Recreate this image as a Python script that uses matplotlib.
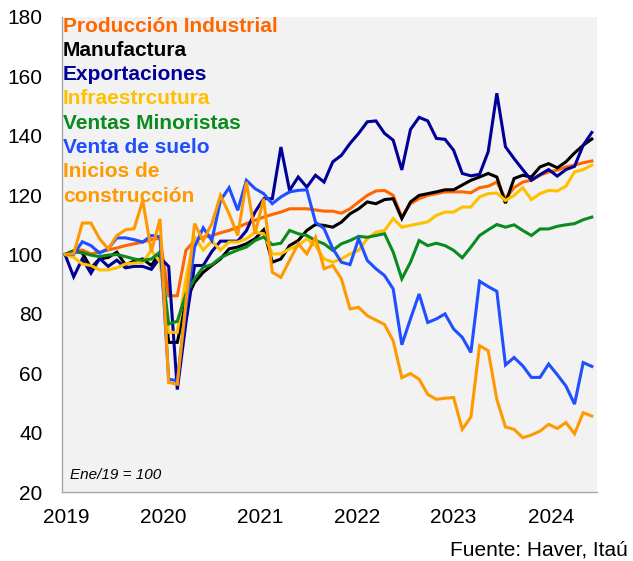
import numpy as np
import matplotlib
matplotlib.use("Agg")
import matplotlib.pyplot as plt

plt.rcParams['font.family'] = ['Liberation Sans', 'DejaVu Sans']

# monthly index, Jan 2019 .. Feb 2024 (Ene/19 = 100)
prod_industrial = [100, 101.2, 101.5, 100.2, 100.8, 101.5, 102.2, 103, 103.6, 104.2, 105, 105.5,
                   86.1, 86.1, 101.4, 104.7, 105.8, 106.4, 107.3, 108.1, 109.2, 110.4, 111.5, 112.6,
                   113.5, 114.3, 115.4, 115.4, 115.4, 115, 114.6, 114.6, 113.9, 115.4, 117.7, 119.9,
                   121.4, 121.6, 119.9, 112.6, 117.1, 118.8, 119.9, 120.5, 121.1, 121.1, 121.1, 120.8,
                   122.5, 123, 124.4, 118.8, 122.5, 124.4, 125, 126.7, 127.8, 128.4, 129.5, 130.1,
                   130.9, 131.5]
manufactura = [100, 101.2, 100.5, 95.5, 98.5, 99, 100.8, 96.5, 97.8, 98.5, 96.3, 100.8,
               70.4, 70.4, 84.5, 90.6, 94, 96.3, 98.5, 101.9, 102.5, 103.6, 105.3, 108.3,
               97.4, 98.5, 103, 104.7, 108.1, 110.1, 109.8, 109.2, 110.9, 113.7, 115.4, 117.7,
               117.1, 118.5, 118.8, 112.1, 117.7, 119.9, 120.5, 121.1, 121.8, 121.8, 123.4, 125,
               126.1, 127.3, 126.1, 117.3, 125.6, 126.7, 126.1, 129.5, 130.6, 129.2, 131.2, 134.2,
               136.8, 138.9]
exportaciones = [100, 92.5, 98.5, 93.7, 98.7, 96, 98.1, 95.5, 96, 96, 95, 98.9,
                 96, 54.5, 77, 96.3, 96.3, 101, 104.5, 104.5, 104.5, 108, 114.3, 118.8,
                 118.8, 136.2, 121.6, 126.1, 122.7, 126.7, 124.4, 131.2, 133.4, 137.4, 140.8, 144.7,
                 145, 140.8, 138.5, 128.5, 142.1, 146.2, 145, 139.1, 138.8, 135.1, 127.3, 126.5,
                 127, 134.6, 154.3, 136.3, 132.3, 128.6, 125, 126.9, 128.6, 126.4, 128.6, 129.7,
                 136.8, 141.1]
infraestructura = [100, 99.1, 96.8, 96.3, 94.8, 94.8, 95.5, 96.8, 97.1, 97.4, 101.4, 97.5,
                   73.8, 73.8, 92, 106, 101.5, 104.5, 101.5, 104.2, 104.2, 105.3, 107.5, 107,
                   100.2, 100.2, 101.9, 103, 105.3, 103, 98.5, 97.4, 98.5, 100.2, 101.4, 105.3,
                   107.5, 108.1, 112.1, 109.2, 109.8, 110.4, 111, 113.2, 114.3, 114.3, 116, 116,
                   119.4, 120.5, 120.7, 118.2, 119.9, 122.5, 118.5, 120.5, 121.6, 121.4, 123, 127.8,
                   128.6, 130.1]
ventas_minoristas = [100, 101, 100.6, 99.8, 99.3, 99.8, 100, 99.3, 98.5, 98, 98.5, 100.8,
                     76.6, 77.5, 86.7, 91.8, 95.7, 96.6, 98.9, 100.3, 101.5, 102.5, 104.7, 105.9,
                     103.3, 103.8, 108.1, 107, 106.4, 104.7, 103.6, 101.4, 103.6, 104.7, 106.1, 105.8,
                     106.4, 107, 100.8, 91.8, 97.4, 104.7, 103, 103.8, 103, 101.4, 98.9, 102.5,
                     106.4, 108.3, 110.1, 109.2, 110, 108.1, 106.4, 108.6, 108.6, 109.5, 110, 110.4,
                     111.7, 112.6]
venta_suelo = [100, 100, 104.3, 103, 100.5, 102, 105.6, 105.6, 105, 104.2, 106.4, 106,
               58, 57.5, 82, 102.5, 109, 104.7, 118.2, 122.5, 114.9, 125, 122.2, 120.5,
               117.1, 119.4, 121.1, 121.6, 121.8, 110.9, 108.7, 102, 97.4, 96.6, 105.3, 98,
               95.2, 92.9, 88.4, 69.6, 78.3, 86.7, 77.1, 78.3, 80, 74.9, 72.1, 67,
               91, 89.2, 87.6, 62.8, 65.3, 62.5, 58.6, 58.6, 63.1, 59.5, 55.7, 49.6,
               63.6, 62.3]
inicios_construccion = [100, 100.2, 110.6, 110.6, 105.3, 101.9, 106.4, 108.3, 108.7, 118.2, 101, 112,
                        56.9, 56.3, 84, 110.4, 104.7, 110.4, 119.9, 113.7, 106.4, 124.4, 107, 118.8,
                        94, 92.3, 98, 103.6, 100.2, 105.8, 95.2, 96.3, 91.8, 81.7, 82.2, 79.4,
                        77.9, 76.4, 70.9, 58.5, 59.9, 58, 52.9, 51.2, 51.6, 51.8, 41.1, 45.3,
                        69.3, 67.6, 51.2, 41.9, 41.1, 38.3, 39.2, 40.5, 42.8, 41.4, 43.4, 39.6,
                        46.7, 45.6]

labels = ["Producción Industrial", "Manufactura", "Exportaciones", "Infraestrcutura",
          "Ventas Minoristas", "Venta de suelo", "Inicios de\nconstrucción"]
colors = ["#FF6600", "#000000", "#000099", "#FFC000", "#0B8A1F", "#1F4FFF", "#FF9900"]
series = [prod_industrial, manufactura, exportaciones, infraestructura,
          ventas_minoristas, venta_suelo, inicios_construccion]

year_labels = ["2019", "2020", "2021", "2022", "2023", "2024"]
year_pos = [0.1, 11.35, 22.6, 33.8, 45.0, 56.25]   # where the Excel axis put its labels
y_ticks = list(range(20, 181, 20))

fig = plt.figure(figsize=(6.33, 5.61), dpi=100)
ax = fig.add_axes([62 / 633, 69 / 561, 535 / 633, 475 / 561])
ax.set_facecolor("#F2F2F2")

x = np.arange(len(prod_industrial))
for vals, c in zip(series, colors):
    ax.plot(x, vals, color=c, lw=2.2, solid_joinstyle='miter')

ax.set_xlim(-0.35, 61.6)
ax.set_ylim(20, 180)
ax.set_yticks(y_ticks)
ax.set_xticks(year_pos)
ax.set_xticklabels(year_labels)
ax.tick_params(axis='both', length=0, labelsize=15)
ax.tick_params(axis='y', pad=14)
ax.tick_params(axis='x', pad=11.5)
for s in ["top", "right"]:
    ax.spines[s].set_visible(False)
for s in ["left", "bottom"]:
    ax.spines[s].set_color("#A6A6A6")
    ax.spines[s].set_linewidth(1)

# colored text legend
row = 0
for lab, c in zip(labels, colors):
    for part in lab.split("\n"):
        ax.annotate(part, xy=(0, 1), xycoords='axes fraction',
                    xytext=(1, -9 - 24.3 * row), textcoords='offset pixels',
                    ha='left', va='center', fontsize=15, fontweight='bold', color=c)
        row += 1

ax.text(0.015, 0.035, "Ene/19 = 100", transform=ax.transAxes, fontsize=11,
        style='italic', ha='left', va='center')
fig.text(628 / 633, 1 - 550 / 561, "Fuente: Haver, Itaú", ha='right', va='center', fontsize=15)

fig.savefig("out.png", dpi=100)
